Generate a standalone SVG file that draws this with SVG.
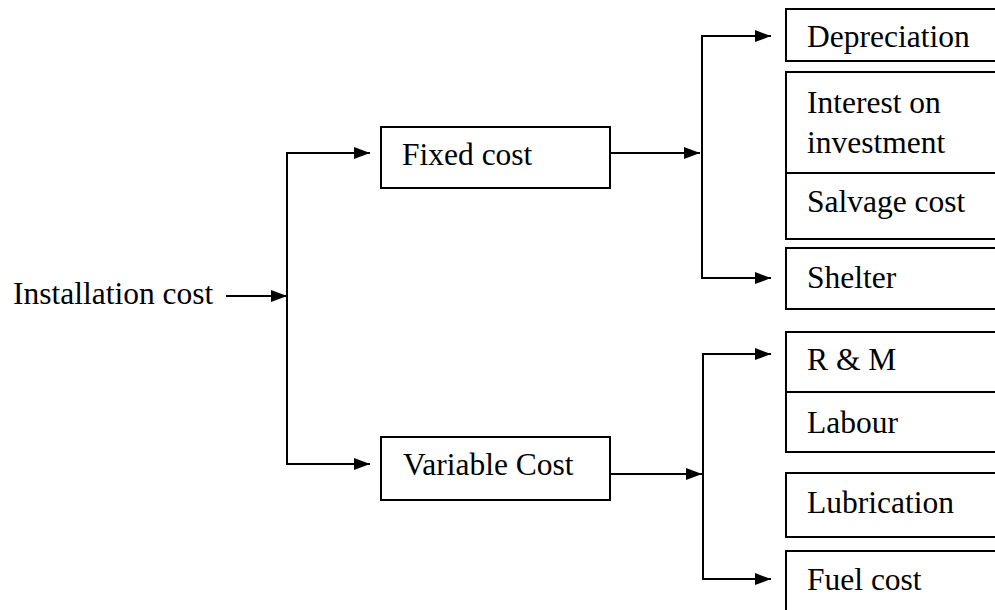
<svg xmlns="http://www.w3.org/2000/svg" width="995" height="610" viewBox="0 0 995 610">
<style>
  .box { fill: #ffffff; stroke: #000000; stroke-width: 2; }
  .lbl { font-family: "Liberation Serif", "Times New Roman", serif; font-size: 31.5px; fill: #000000; }
  .con { fill: none; stroke: #000000; stroke-width: 2; }
</style>
<defs>
  <marker id="arr" markerUnits="userSpaceOnUse" markerWidth="17" markerHeight="13" refX="16" refY="6" orient="auto">
    <path d="M0,0 L16,6 L0,12 z" fill="#000000"/>
  </marker>
</defs>
<rect width="995" height="610" fill="#ffffff"/>
<g id="connectors">
  <line class="con" x1="226" y1="296" x2="287" y2="296" marker-end="url(#arr)"/>
  <line class="con" x1="287" y1="153" x2="287" y2="464"/>
  <line class="con" x1="286" y1="153" x2="370" y2="153" marker-end="url(#arr)"/>
  <line class="con" x1="286" y1="464" x2="370" y2="464" marker-end="url(#arr)"/>
  <line class="con" x1="610" y1="153" x2="700" y2="153" marker-end="url(#arr)"/>
  <line class="con" x1="702" y1="36" x2="702" y2="278"/>
  <line class="con" x1="701" y1="36" x2="771" y2="36" marker-end="url(#arr)"/>
  <line class="con" x1="701" y1="278" x2="771" y2="278" marker-end="url(#arr)"/>
  <line class="con" x1="610" y1="474" x2="702" y2="474" marker-end="url(#arr)"/>
  <line class="con" x1="703" y1="354" x2="703" y2="579"/>
  <line class="con" x1="702" y1="354" x2="771" y2="354" marker-end="url(#arr)"/>
  <line class="con" x1="702" y1="579" x2="771" y2="579" marker-end="url(#arr)"/>
</g>
<g id="installation-cost">
  <text class="lbl" x="13" y="304">Installation cost</text>
</g>
<g id="fixed-cost">
  <rect class="box" x="381" y="127" width="229" height="61"/>
  <text class="lbl" x="402" y="165">Fixed cost</text>
</g>
<g id="variable-cost">
  <rect class="box" x="381" y="437" width="229" height="63"/>
  <text class="lbl" x="403" y="475">Variable Cost</text>
</g>
<g id="depreciation">
  <rect class="box" x="786" y="9" width="220" height="52"/>
  <text class="lbl" x="807" y="47">Depreciation</text>
</g>
<g id="interest">
  <rect class="box" x="786" y="72" width="220" height="101"/>
  <text class="lbl" x="807" y="113">Interest on</text>
  <text class="lbl" x="807" y="153">investment</text>
</g>
<g id="salvage">
  <rect class="box" x="786" y="173" width="220" height="66"/>
  <text class="lbl" x="807" y="212">Salvage cost</text>
</g>
<g id="shelter">
  <rect class="box" x="786" y="248" width="220" height="61"/>
  <text class="lbl" x="807" y="288">Shelter</text>
</g>
<g id="rm">
  <rect class="box" x="786" y="332" width="220" height="60"/>
  <text class="lbl" x="807" y="370">R &amp; M</text>
</g>
<g id="labour">
  <rect class="box" x="786" y="392" width="220" height="60"/>
  <text class="lbl" x="807" y="433">Labour</text>
</g>
<g id="lubrication">
  <rect class="box" x="786" y="473" width="220" height="64"/>
  <text class="lbl" x="807" y="513">Lubrication</text>
</g>
<g id="fuel-cost">
  <rect class="box" x="786" y="551" width="220" height="80"/>
  <text class="lbl" x="807" y="590">Fuel cost</text>
</g>
</svg>
